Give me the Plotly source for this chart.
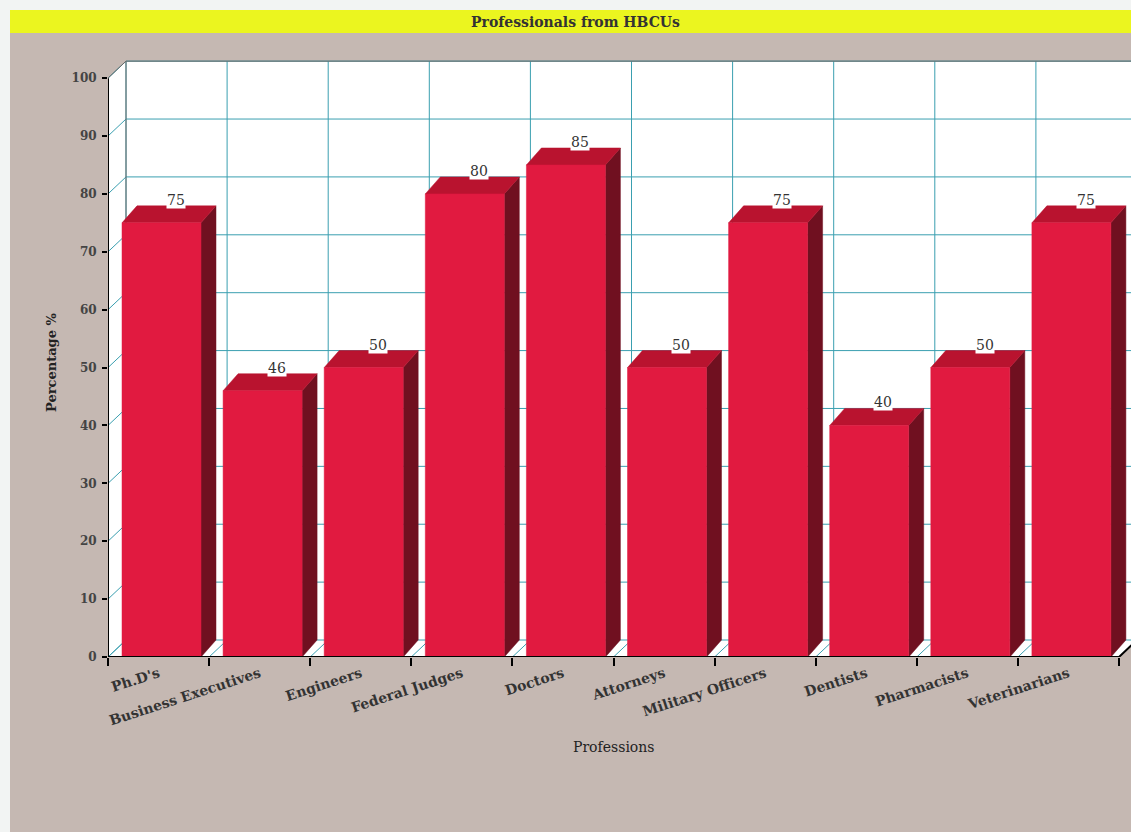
import plotly.graph_objects as go

# ---- data ----
professions = ["Ph.D's", "Business Executives", "Engineers", "Federal Judges", "Doctors",
               "Attorneys", "Military Officers", "Dentists", "Pharmacists", "Veterinarians"]
percentages = [75, 46, 50, 80, 85, 50, 75, 40, 50, 75]
y_ticks = [0, 10, 20, 30, 40, 50, 60, 70, 80, 90, 100]

# ---- page geometry (pixels) ----
W, H = 1131, 832
ML, MT, MB = 108, 55, 175
PLOT_W = W - ML
PLOT_H = H - MT - MB
PX_PER_CAT = 101.1
X_MIN = -0.5
X_MAX = X_MIN + PLOT_W / PX_PER_CAT
Y_MAX = 104.0
PX_PER_UNIT = PLOT_H / Y_MAX

# depth of the pseudo-3D box and of the bars, in data units
DXW, DYW = 18 / PX_PER_CAT, 17 / PX_PER_UNIT
DXB, DYB = 15 / PX_PER_CAT, 17 / PX_PER_UNIT
BAR_OFF = 14 / PX_PER_CAT
BAR_W = 79 / PX_PER_CAT

n = len(professions)
bounds = [i - 0.5 for i in range(n + 1)]
X_RIGHT = X_MAX + 1

BG = "#c5b8b2"
TEAL = "#3a9fb0"
FRONT = "#e11a40"
TOP = "#b9132f"
SIDE = "#701020"
FONT = "DejaVu Serif"


def px_x(p):
    return (p - ML) / PLOT_W


def px_y(p):
    return (H - MB - p) / PLOT_H


fig = go.Figure()

# white walls and floor of the box
fig.add_trace(go.Scatter(
    x=[X_MIN, X_MIN, X_MIN + DXW, X_RIGHT, X_RIGHT, bounds[-1] + DXW, bounds[-1], X_MIN],
    y=[0, 100, 100 + DYW, 100 + DYW, DYW, DYW, 0, 0],
    fill="toself", fillcolor="white", mode="none", hoverinfo="skip", showlegend=False))

# grid lines: left wall diagonals, back wall horizontals/verticals, floor diagonals
gx, gy = [], []
for v in y_ticks:
    gx += [X_MIN, X_MIN + DXW, X_RIGHT, None]
    gy += [v, v + DYW, v + DYW, None]
for b in bounds:
    gx += [b, b + DXW, b + DXW, None]
    gy += [0, DYW, 100 + DYW, None]
fig.add_trace(go.Scatter(x=gx, y=gy, mode="lines", line=dict(color=TEAL, width=1),
                         hoverinfo="skip", showlegend=False))

# outline of the back wall edge
fig.add_trace(go.Scatter(
    x=[X_MIN, X_MIN + DXW, X_RIGHT, None, X_MIN + DXW, X_MIN + DXW],
    y=[100, 100 + DYW, 100 + DYW, None, 100 + DYW, DYW],
    mode="lines", line=dict(color="#6a6a6a", width=1), hoverinfo="skip", showlegend=False))

# bars: side, top, front faces
sx, sy, tx, ty, fx, fy = [], [], [], [], [], []
for i, v in enumerate(percentages):
    x0 = bounds[i] + BAR_OFF
    x1 = x0 + BAR_W
    sx += [x1, x1 + DXB, x1 + DXB, x1, x1, None]
    sy += [0, DYB, v + DYB, v, 0, None]
    tx += [x0, x0 + DXB, x1 + DXB, x1, x0, None]
    ty += [v, v + DYB, v + DYB, v, v, None]
    fx += [x0, x1, x1, x0, x0, None]
    fy += [0, 0, v, v, 0, None]
for xs, ys, col in [(sx, sy, SIDE), (tx, ty, TOP), (fx, fy, FRONT)]:
    fig.add_trace(go.Scatter(x=xs, y=ys, fill="toself", fillcolor=col, mode="lines",
                             line=dict(color=col, width=0.5), hoverinfo="skip",
                             showlegend=False))

# front axis lines
fig.add_trace(go.Scatter(
    x=[X_MIN, X_MIN, None, X_MIN, bounds[-1], bounds[-1] + DXW],
    y=[100, 0, None, 0, 0, DYW],
    mode="lines", line=dict(color="black", width=2), hoverinfo="skip", showlegend=False))

# invisible trace anchoring the label axis
fig.add_trace(go.Scatter(x=[X_MIN, X_MAX], y=[0, 0], xaxis="x2", mode="none",
                         hoverinfo="skip", showlegend=False))

# value labels
for i, v in enumerate(percentages):
    fig.add_annotation(x=i + 0.17, y=v + DYB, text=str(v), showarrow=False,
                       xanchor="center", yanchor="bottom", yshift=-3,
                       bgcolor="white", borderpad=0,
                       font=dict(family=FONT, size=14, color="#333333"))

shapes = [
    # page background
    dict(type="rect", xref="paper", yref="paper", x0=px_x(10), x1=px_x(W + 5),
         y0=px_y(H + 5), y1=px_y(33), fillcolor=BG, line=dict(width=0), layer="below"),
    # title bar
    dict(type="rect", xref="paper", yref="paper", x0=px_x(10), x1=px_x(W + 5),
         y0=px_y(33), y1=px_y(10), fillcolor="#ebf51f", line=dict(width=0), layer="below"),
]

annotations = [
    dict(xref="paper", yref="paper", x=px_x(575), y=px_y(22), text="<b>Professionals from HBCUs</b>",
         showarrow=False, xanchor="center", yanchor="middle",
         font=dict(family=FONT, size=14, color="#333333")),
    dict(xref="paper", yref="paper", x=px_x(51), y=px_y(362), text="<b>Percentage %</b>",
         textangle=-90, showarrow=False, xanchor="center", yanchor="middle",
         font=dict(family=FONT, size=13, color="#222222")),
    dict(xref="paper", yref="paper", x=px_x(613), y=px_y(747), text="Professions",
         showarrow=False, xanchor="center", yanchor="middle",
         font=dict(family=FONT, size=14, color="#222222")),
]

fig.update_layout(
    width=W, height=H,
    margin=dict(l=ML, r=0, t=MT, b=MB, pad=0),
    paper_bgcolor="#f2f4f3",
    plot_bgcolor="rgba(0,0,0,0)",
    shapes=shapes,
    annotations=list(fig.layout.annotations) + annotations,
    showlegend=False,
    xaxis=dict(range=[X_MIN, X_MAX], tickvals=bounds, ticktext=[""] * len(bounds),
               ticks="outside", ticklen=8, tickwidth=1.5, tickcolor="black",
               showgrid=False, zeroline=False, showline=False, fixedrange=True),
    xaxis2=dict(overlaying="x", matches="x", range=[X_MIN, X_MAX], anchor="y", side="bottom",
                tickvals=list(range(n)), ticktext=professions, tickangle=-18,
                ticks="", ticklabelstandoff=5, showgrid=False, zeroline=False, showline=False,
                tickfont=dict(family=FONT, size=14, weight="bold", color="#333333")),
    yaxis=dict(range=[0, Y_MAX], tickvals=y_ticks, ticktext=[str(t) for t in y_ticks],
               ticks="outside", ticklen=5, tickwidth=1.5, tickcolor="black",
               ticklabelstandoff=3, showgrid=False, zeroline=False, showline=False,
               tickfont=dict(family=FONT, size=12, weight="bold", color="#444444")),
)

fig.write_html("out.html")
